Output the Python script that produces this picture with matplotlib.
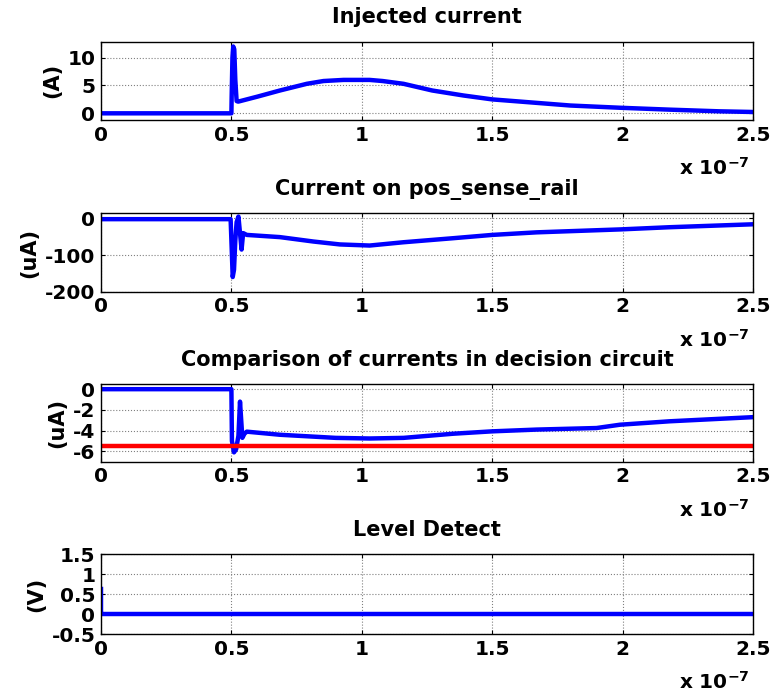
import matplotlib
matplotlib.use("Agg")
import matplotlib.pyplot as plt
from matplotlib.ticker import FixedLocator, FuncFormatter

# time axis in units of 1e-7 s
t_inj = [0, 0.5, 0.501, 0.504, 0.507, 0.511, 0.515, 0.52, 0.526, 0.6, 0.686,
         0.789, 0.853, 0.93, 1.03, 1.08, 1.16, 1.27, 1.39, 1.50, 1.61, 1.80,
         1.99, 2.18, 2.37, 2.5]
i_inj = [0, 0, 3.0, 10.0, 12.0, 11.5, 6.0, 2.2, 2.1, 3.0, 4.1,
         5.3, 5.8, 6.0, 6.0, 5.8, 5.3, 4.1, 3.2, 2.5, 2.1, 1.4,
         1.0, 0.66, 0.36, 0.24]

t_rail = [0, 0.497, 0.50, 0.505, 0.51, 0.515, 0.52, 0.527, 0.533, 0.539,
          0.545, 0.559, 0.686, 0.814, 0.916, 1.03, 1.16, 1.35, 1.50, 1.67,
          1.99, 2.18, 2.5]
i_rail = [-2, -2, -60, -160, -140, -60, -10, 5, -40, -85,
          -40, -45, -51, -63, -71, -74, -65, -54, -45, -38,
          -30, -24, -16]

t_cmp = [0, 0.5, 0.502, 0.51, 0.518, 0.527, 0.533, 0.542, 0.55, 0.559,
         0.686, 0.9, 1.03, 1.16, 1.35, 1.50, 1.67, 1.90, 1.99, 2.18, 2.5]
i_cmp = [0, 0, -5.0, -6.1, -5.8, -4.5, -1.2, -4.7, -4.3, -4.1,
         -4.4, -4.7, -4.76, -4.7, -4.3, -4.07, -3.9, -3.75, -3.43, -3.1, -2.7]
t_thr = [0, 2.5]
i_thr = [-5.5, -5.5]

t_det = [0, 0, 0.01, 2.5]
v_det = [0.62, 0, 0, 0]

titles = ["Injected current", "Current on pos_sense_rail",
          "Comparison of currents in decision circuit", "Level Detect"]
ylabels = ["(A)", "(uA)", "(uA)", "(V)"]
xticks = [0, 0.5, 1, 1.5, 2, 2.5]
yticks = [[0, 5, 10], [-200, -100, 0], [-6, -4, -2, 0], [-0.5, 0, 0.5, 1, 1.5]]
ylims = [(-1.2, 12.9), (-200, 14), (-7, 0.5), (-0.5, 1.5)]

plt.rcParams['font.family'] = ['DejaVu Sans']
plt.rcParams['font.weight'] = 'bold'

W, H = 775, 696
fig = plt.figure(figsize=(W / 100, H / 100), dpi=100)

# axes boxes in pixels: (top, bottom)
boxes = [(41.5, 120), (213.3, 291.7), (384, 461.7), (554.3, 634)]
left_px, right_px = 101, 753

series = [
    [(t_inj, i_inj, 'b')],
    [(t_rail, i_rail, 'b')],
    [(t_cmp, i_cmp, 'b'), (t_thr, i_thr, 'r')],
    [(t_det, v_det, 'b')],
]

def fmt(v, pos):
    return f"{v:g}"

for k in range(4):
    top, bot = boxes[k]
    ax = fig.add_axes([left_px / W, 1 - bot / H, (right_px - left_px) / W, (bot - top) / H])
    for x, y, c in series[k]:
        ax.plot(x, y, color=c, lw=3.2, solid_joinstyle='round')
    ax.set_xlim(0, 2.5)
    ax.set_ylim(*ylims[k])
    ax.xaxis.set_major_locator(FixedLocator(xticks))
    ax.yaxis.set_major_locator(FixedLocator(yticks[k]))
    ax.xaxis.set_major_formatter(FuncFormatter(fmt))
    ax.yaxis.set_major_formatter(FuncFormatter(fmt))
    ax.grid(True, color='#808080', linestyle=':', linewidth=0.8)
    ax.tick_params(direction='in', length=3, width=0.8, top=True, right=True,
                   labelsize=14.5, pad=4)
    for lab in ax.get_xticklabels() + ax.get_yticklabels():
        lab.set_fontweight('bold')
    for sp in ax.spines.values():
        sp.set_linewidth(1.0)
    ax.set_title(titles[k], fontsize=15, fontweight='bold', pad=13)
    ax.set_ylabel(ylabels[k], fontsize=15, fontweight='bold', labelpad=4)
    fig.text(750 / W, 1 - (bot + 48) / H, r"x 10$^{\mathbf{-7}}$", ha='right',
             va='center', fontsize=14.5, fontweight='bold')

fig.savefig("out.png", dpi=100)
